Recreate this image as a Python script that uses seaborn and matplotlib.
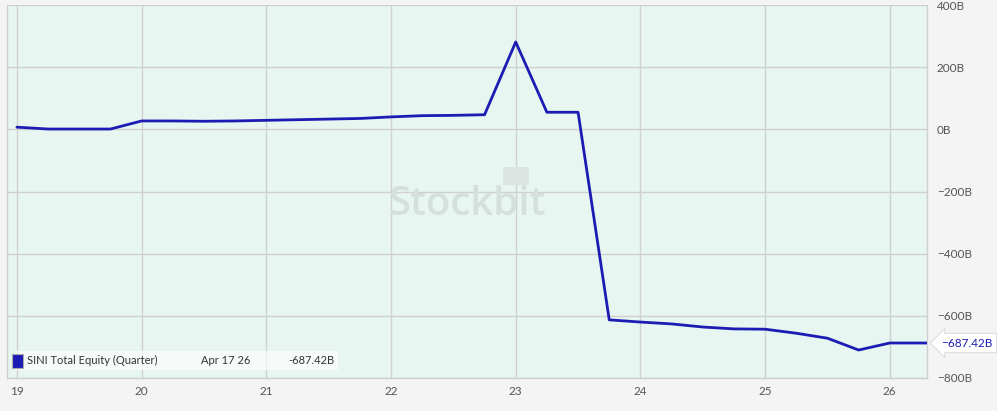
import matplotlib
matplotlib.use("Agg")
import matplotlib.pyplot as plt
import matplotlib.patches as mpatches
import seaborn as sns
import pandas as pd

# ---- data ----
quarters = [19.0, 19.25, 19.5, 19.75, 20.0, 20.25, 20.5, 20.75, 21.0, 21.25, 21.5, 21.75,
            22.0, 22.25, 22.5, 22.75, 23.0, 23.25, 23.5, 23.75, 24.0, 24.25, 24.5, 24.75,
            25.0, 25.25, 25.5, 25.75, 26.0, 26.3]
equity_b = [7, 1, 1, 1, 27, 27, 26, 27, 29, 31, 33, 35,
            40, 44, 45, 47, 281, 55, 55, -613, -620, -626, -636, -642,
            -643, -656, -672, -710, -687.42, -687.42]
x_ticks = [19, 20, 21, 22, 23, 24, 25, 26]
x_labels = ["19", "20", "21", "22", "23", "24", "25", "26"]
y_ticks = [400, 200, 0, -200, -400, -600, -800]
y_labels = ["400B", "200B", "0B", "\u2212200B", "\u2212400B", "\u2212600B", "\u2212800B"]
series_name = "SINI Total Equity (Quarter)"
last_date = "Apr 17 26"
last_value_text = "-687.42B"
last_value_tag = "\u2212687.42B"
last_value = -687.42

df = pd.DataFrame({"x": quarters, "y": equity_b})

sns.set_theme(style="white")
plt.rcParams["font.family"] = ["Lato", "DejaVu Sans"]

LINE = "#1c1cb4"
fig = plt.figure(figsize=(9.97, 4.11), dpi=100, facecolor="#f4f4f4")
ax = fig.add_axes([0.007, 0.0803, 0.923, 0.9075])
ax.set_facecolor("#e7f6f0")

sns.lineplot(data=df, x="x", y="y", ax=ax, color=LINE, linewidth=2.0, zorder=3)

ax.set_xlim(18.92, 26.3)
ax.set_ylim(-800, 400)
ax.set_xticks(x_ticks)
ax.set_xticklabels(x_labels)
ax.set_yticks(y_ticks)
ax.set_yticklabels(y_labels)
ax.yaxis.tick_right()
ax.tick_params(axis="both", length=0, labelsize=8.5, colors="#555555")
ax.tick_params(axis="y", pad=7)
ax.tick_params(axis="x", pad=6)
ax.set_xlabel("")
ax.set_ylabel("")
ax.grid(True, color="#d0d0d0", linewidth=1)
for s in ["left", "bottom", "right"]:
    ax.spines[s].set_color("#cfcfcf")
    ax.spines[s].set_linewidth(1)
ax.spines["top"].set_visible(False)

# watermark
ax.text(0.5, 0.465, "Stockbit", transform=ax.transAxes, ha="center", va="center",
        fontsize=29, color="#d6e0db", zorder=1, fontweight="semibold",
        fontfamily=["Open Sans", "DejaVu Sans"])
ax.add_patch(mpatches.Rectangle((0.539, 0.517), 0.028, 0.049, transform=ax.transAxes,
                                facecolor="#dbe4e0", edgecolor="none", zorder=1))

# legend strip
ax.add_patch(mpatches.Rectangle((0.0097, 0.022), 0.35, 0.05, transform=ax.transAxes,
                                facecolor="white", alpha=0.65, edgecolor="none", zorder=4))
ax.add_patch(mpatches.Rectangle((0.005, 0.027), 0.012, 0.037, transform=ax.transAxes,
                                facecolor=LINE, edgecolor="#aaaaaa", linewidth=0.8, zorder=5))
ax.text(0.022, 0.046, series_name, transform=ax.transAxes, ha="left", va="center",
        fontsize=8, color="#333333", zorder=6)
ax.text(0.211, 0.046, last_date, transform=ax.transAxes, ha="left", va="center",
        fontsize=8, color="#333333", zorder=6)
ax.text(0.3055, 0.046, last_value_text, transform=ax.transAxes, ha="left", va="center",
        fontsize=8, color="#333333", zorder=6)

# last value tag
ax.annotate(last_value_tag, xy=(1.0, last_value), xycoords=("axes fraction", "data"),
            xytext=(10, 0), textcoords="offset points", ha="left", va="center",
            fontsize=8.5, color=LINE, annotation_clip=False,
            bbox=dict(boxstyle="larrow,pad=0.35", fc="white", ec="#dddddd", lw=0.8))

fig.savefig("out.png", dpi=100, facecolor=fig.get_facecolor())
